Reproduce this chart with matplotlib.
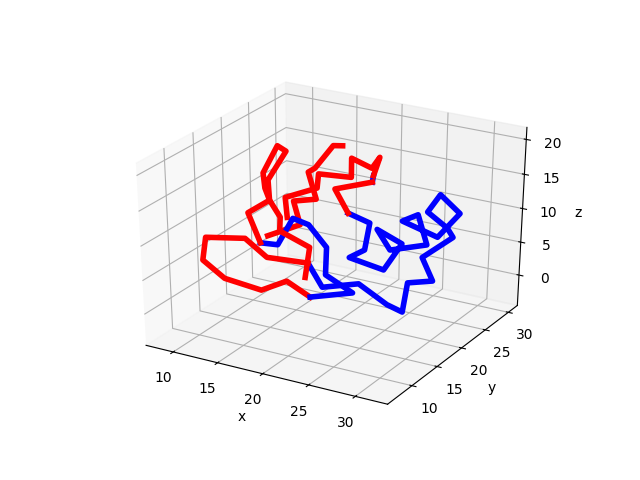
import numpy as np
import matplotlib
matplotlib.use('Agg')
import matplotlib.pyplot as plt

# chain pieces, each point is x, y, z
blue_a = [[14.2,14.8,7.9],[15.7,15.5,7.7],[16.1,17.7,10.6],[17.6,18.1,9.9],
          [19.8,17.7,7.4],[20.6,16.1,4.4],[23.4,16.4,2.4],[20.0,14.2,1.9]]
red_a = [[20.0,14.2,1.9],[17.6,13.9,3.7],[15.8,12.2,2.7],[12.4,11.1,4.0],[10.0,11.1,6.0],
         [9.5,12.5,8.5],[12.8,14.3,8.4],[15.2,14.3,6.3],[18.8,15.9,5.7]]
blue_b = [[18.8,15.9,5.7],[20.7,15.3,3.0],[23.6,17.2,3.4],[26.6,17.4,1.1],[28.1,17.7,0.3],
          [27.6,19.6,3.5],[29.6,20.9,3.7],[28.0,21.7,6.3],[29.9,24.3,8.5],[29.1,24.6,9.5],
          [27.0,24.5,11.3],[27.5,26.1,13.2],[29.7,26.0,11.1],[28.6,23.6,8.5],[25.2,22.8,10.3],
          [26.3,23.9,11.0],[28.0,22.6,7.7],[25.1,20.6,7.1],[23.4,21.1,9.4],[25.9,21.5,7.8],
          [25.2,19.2,4.9],[22.0,18.2,6.3],[23.0,19.4,7.1],[22.6,21.1,10.1],[20.5,20.6,11.2]]
red_b = [[20.5,20.6,11.2],[18.6,21.4,13.8],[21.5,23.5,14.6]]
blue_c = [[21.5,23.5,14.6],[21.4,23.9,15.3]]
red_c = [[21.4,23.9,15.3],[21.3,25.3,17.3],[21.0,24.3,16.1],[19.0,23.9,17.2],[19.6,22.8,15.1],
         [16.8,21.4,15.5],[17.1,20.6,13.9],[14.8,18.5,12.9],[15.6,17.5,10.7]]
red_d = [[14.2,14.8,7.9],[12.2,15.9,11.2],[13.6,17.6,12.6],[12.8,18.1,13.9],[12.2,18.8,15.6],
         [12.5,21.0,18.6],[13.4,21.1,18.0],[12.8,18.7,14.8],[13.6,17.6,12.6],[15.0,17.2,10.7],
         [15.4,16.4,9.2],[18.4,16.9,7.4],[19.0,15.0,4.1]]
red_e = [[17.9,24.1,18.6],[17.1,23.7,18.6],[16.3,21.6,16.1],[15.9,21.0,15.7],[17.4,19.9,12.7],
         [15.6,18.7,12.5],[16.9,17.7,9.9],[14.6,15.5,8.7]]

fig = plt.figure()
ax = fig.add_subplot(111, projection='3d')
# stretch the 3d box over the whole axes rectangle
ax.apply_aspect = lambda position=None: None
ax.set_box_aspect((1, 1, 1), zoom=0.945)
ax.set_position([0.125, 0.11, 0.775, 0.77])
ax.computed_zorder = False

# drawn in this order so the overlaps come out right
for piece, col in [(blue_c,'b'), (blue_b,'b'), (red_a,'r'), (red_b,'r'), (red_c,'r'),
                   (red_e,'r'), (blue_a,'b'), (red_d,'r')]:
    p = np.array(piece)
    ax.plot(p[:,0], p[:,1], p[:,2], color=col, linewidth=4)

ax.set_xlim(6.9, 33.4)
ax.set_ylim(5.3, 32)
ax.set_zlim(-4.7, 21.7)
ax.set_xlabel('x')
ax.set_ylabel('y')
ax.set_zlabel('z')

fig.savefig('out.png')
